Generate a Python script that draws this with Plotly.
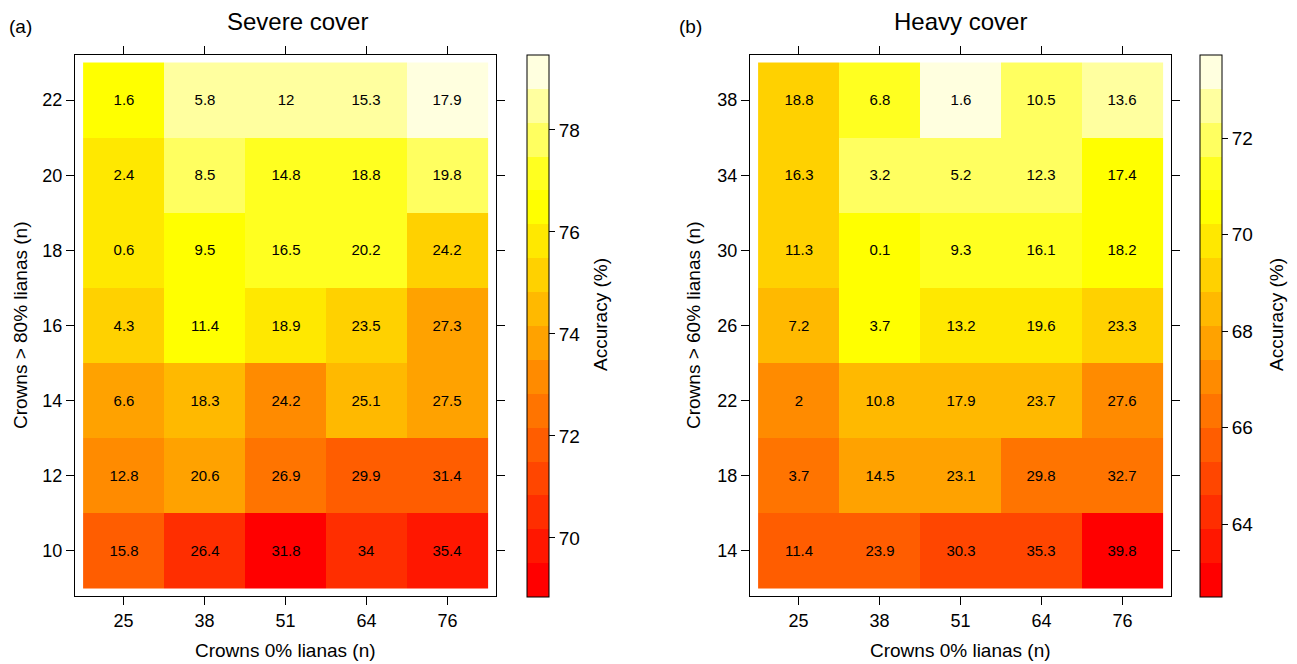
import plotly.graph_objects as go

# ---------------- data ----------------
x_labels = ["25", "38", "51", "64", "76"]           # Crowns 0% lianas (n)
y_labels_a = ["10", "12", "14", "16", "18", "20", "22"]   # Crowns > 80% lianas (n)
y_labels_b = ["14", "18", "22", "26", "30", "34", "38"]   # Crowns > 60% lianas (n)

# Accuracy (%) – rows bottom (first) to top (last)
acc_a = [
    [71.8, 70.5, 68.9, 70.5, 69.8],
    [73.2, 73.8, 72.5, 71.8, 71.8],
    [73.8, 74.5, 73.2, 74.5, 73.8],
    [75.2, 76.5, 75.8, 75.2, 73.8],
    [75.8, 76.5, 77.1, 77.1, 75.2],
    [75.8, 77.8, 77.1, 77.1, 77.8],
    [76.5, 78.5, 78.5, 78.5, 79.4],
]
# Cell labels
lab_a = [
    [15.8, 26.4, 31.8, 34, 35.4],
    [12.8, 20.6, 26.9, 29.9, 31.4],
    [6.6, 18.3, 24.2, 25.1, 27.5],
    [4.3, 11.4, 18.9, 23.5, 27.3],
    [0.6, 9.5, 16.5, 20.2, 24.2],
    [2.4, 8.5, 14.8, 18.8, 19.8],
    [1.6, 5.8, 12, 15.3, 17.9],
]

acc_b = [
    [65.6, 65.6, 64.9, 64.9, 62.5],
    [66.4, 67.8, 67.8, 66.4, 66.4],
    [67.0, 68.5, 68.5, 68.5, 67.0],
    [68.5, 70.6, 69.9, 69.9, 69.2],
    [69.2, 70.6, 71.3, 71.3, 70.6],
    [69.2, 72.0, 72.0, 72.0, 70.6],
    [69.2, 71.3, 73.7, 72.0, 72.7],
]
lab_b = [
    [11.4, 23.9, 30.3, 35.3, 39.8],
    [3.7, 14.5, 23.1, 29.8, 32.7],
    [2, 10.8, 17.9, 23.7, 27.6],
    [7.2, 3.7, 13.2, 19.6, 23.3],
    [11.3, 0.1, 9.3, 16.1, 18.2],
    [16.3, 3.2, 5.2, 12.3, 17.4],
    [18.8, 6.8, 1.6, 10.5, 13.6],
]

zlim_a = (68.84, 79.47)
zlim_b = (62.49, 73.72)
cb_ticks_a = [70, 72, 74, 76, 78]
cb_ticks_b = [64, 66, 68, 70, 72]

# heat.colors(16)
palette = ["#FF0000", "#FF1700", "#FF2E00", "#FF4600", "#FF5D00", "#FF7400",
           "#FF8B00", "#FFA200", "#FFB900", "#FFD100", "#FFE800", "#FFFF00",
           "#FFFF20", "#FFFF60", "#FFFF9F", "#FFFFDF"]

# ---------------- figure ----------------
W, H = 1297, 664
FONT = "Liberation Sans, Arial, Helvetica, sans-serif"

n = len(palette)
colorscale = []
for k, c in enumerate(palette):
    colorscale.append([k / n, c])
    colorscale.append([(k + 1) / n, c])


def fmt(rows):
    return [[f"{v:g}" for v in r] for r in rows]


def cbar(x_px, ticks):
    return dict(
        x=x_px / W, xanchor="left", xpad=0,
        y=(H - 597) / H, yanchor="bottom", ypad=0,
        len=542 / H, lenmode="fraction",
        thickness=22, thicknessmode="pixels",
        outlinewidth=1, outlinecolor="black",
        tickvals=ticks, ticks="outside", ticklen=6, tickcolor="black",
        tickfont=dict(size=19, color="black", family=FONT),
    )


fig = go.Figure()
fig.add_trace(go.Heatmap(
    x=x_labels, y=y_labels_a, z=acc_a, text=fmt(lab_a), texttemplate="%{text}",
    textfont=dict(size=15, color="black", family=FONT),
    colorscale=colorscale, zmin=zlim_a[0], zmax=zlim_a[1],
    colorbar=cbar(527, cb_ticks_a), xaxis="x", yaxis="y", hoverinfo="skip",
))
fig.add_trace(go.Heatmap(
    x=x_labels, y=y_labels_b, z=acc_b, text=fmt(lab_b), texttemplate="%{text}",
    textfont=dict(size=15, color="black", family=FONT),
    colorscale=colorscale, zmin=zlim_b[0], zmax=zlim_b[1],
    colorbar=cbar(1200, cb_ticks_b), xaxis="x2", yaxis="y2", hoverinfo="skip",
))

ydom = [(H - 596) / H, (H - 55) / H]
axis_common = dict(
    type="category", showline=True, linecolor="black", linewidth=1,
    mirror="ticks", ticks="outside", ticklen=8, tickcolor="black", tickwidth=1,
    showgrid=False, zeroline=False,
    tickfont=dict(size=18, color="black", family=FONT),
)
fig.update_layout(
    width=W, height=H, margin=dict(l=0, r=0, t=0, b=0),
    paper_bgcolor="white", plot_bgcolor="white",
    font=dict(family=FONT, color="black"),
    xaxis=dict(domain=[75 / W, 496 / W], anchor="y", range=[-0.6, 4.6], **axis_common),
    yaxis=dict(domain=ydom, anchor="x", range=[-0.6, 6.6], **axis_common),
    xaxis2=dict(domain=[750 / W, 1171 / W], anchor="y2", range=[-0.6, 4.6], **axis_common),
    yaxis2=dict(domain=ydom, anchor="x2", range=[-0.6, 6.6], **axis_common),
)


def ann(text, x, y, size, angle=0):
    fig.add_annotation(text=text, x=x / W, y=(H - y) / H, xref="paper", yref="paper",
                       showarrow=False, textangle=angle, xanchor="center", yanchor="middle",
                       font=dict(size=size, color="black", family=FONT))


ann("Severe cover", 297, 22, 24)
ann("Heavy cover", 960, 22, 24)
ann("(a)", 20, 26, 19)
ann("(b)", 690, 26, 19)
ann("Crowns 0% lianas (n)", 285, 650, 19)
ann("Crowns 0% lianas (n)", 960, 650, 19)
ann("Crowns > 80% lianas (n)", 20, 325, 19, -90)
ann("Crowns > 60% lianas (n)", 693, 325, 19, -90)
ann("Accuracy (%)", 600, 315, 19, -90)
ann("Accuracy (%)", 1276, 315, 19, -90)

fig.write_html(
    "out.html",
    config={"displayModeBar": False},
    post_script="document.body.style.margin='0';document.body.style.padding='0';"
                "document.body.style.overflow='hidden';",
)
